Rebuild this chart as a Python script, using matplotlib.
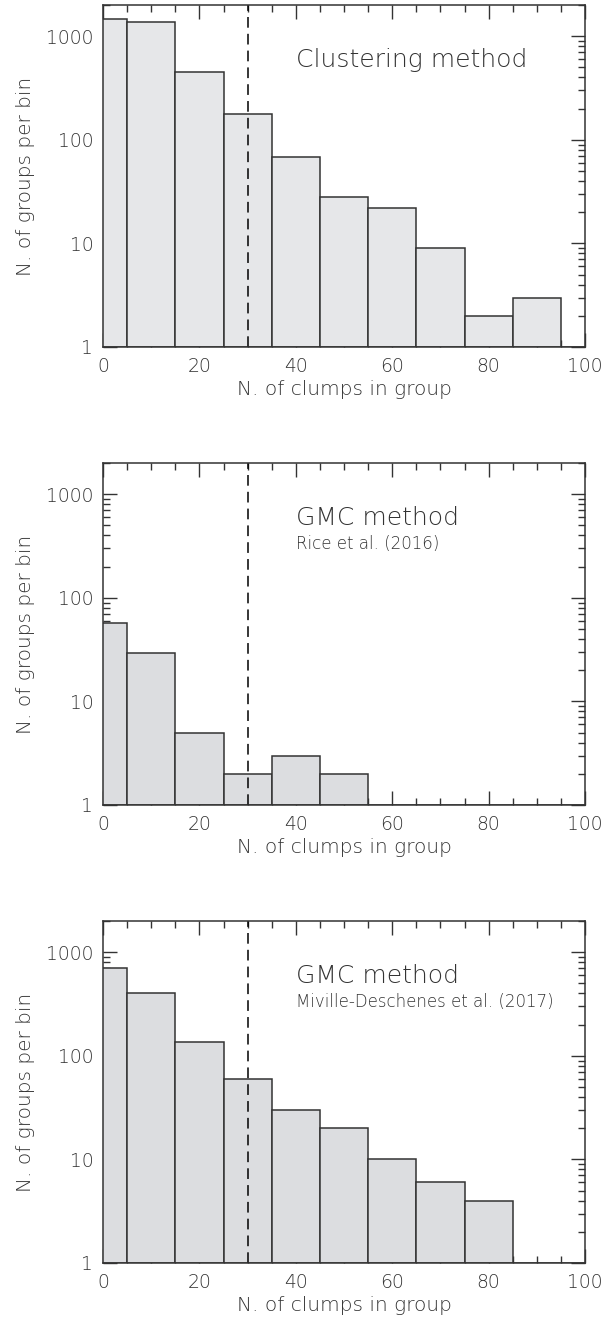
import numpy as np
import matplotlib
matplotlib.use("Agg")
import matplotlib.pyplot as plt
from matplotlib.ticker import LogLocator, MultipleLocator, FixedFormatter, NullFormatter

# bin centres (first and last bins are half-width, clipped at 0 and 100)
bin_centers = [0, 10, 20, 30, 40, 50, 60, 70, 80, 90, 100]

# groups per bin for each grouping method
clustering_counts = [1460, 1365, 452, 179, 68, 28, 22, 9, 2, 3, 1]
rice_counts = [57, 29, 5, 2, 3, 2, 1, 1, 1, 1, 1]
miville_counts = [711, 402, 136, 60, 30, 20, 10, 6, 4, 1, 1]

titles = ["Clustering method", "GMC method", "GMC method"]
subtitles = [None, "Rice et al. (2016)", "Miville-Deschenes et al. (2017)"]
fill_colors = ["#e6e7e9", "#dcdde0", "#dcdde0"]

threshold = 30
ytick_vals = [1, 10, 100, 1000]
ytick_labels = ["1", "10", "100", "1000"]

plt.rcParams['font.family'] = ['DejaVu Sans']
plt.rcParams['font.weight'] = 'light'
plt.rcParams['axes.labelweight'] = 'light'
text_color = "#333333"
edge_color = "#333333"

fig = plt.figure(figsize=(6.14, 13.21), dpi=100)

left, width, height = 103 / 614, 482 / 614, 342 / 1321
bottoms = [1 - 347 / 1321, 1 - 805 / 1321, 1 - 1263 / 1321]

for counts, title, sub, fc, b in zip([clustering_counts, rice_counts, miville_counts],
                                     titles, subtitles, fill_colors, bottoms):
    ax = fig.add_axes([left, b, width, height])
    heights = np.array(counts, dtype=float) - 1
    ax.bar(bin_centers, heights, width=10, bottom=1, color=fc,
           edgecolor=edge_color, linewidth=1.1, zorder=2)
    ax.axvline(threshold, color="black", linestyle=(0, (7, 4)), linewidth=1.1, zorder=3)

    ax.set_yscale("log")
    ax.set_xlim(0, 100)
    ax.set_ylim(1, 2000)

    ax.xaxis.set_major_locator(MultipleLocator(20))
    ax.xaxis.set_minor_locator(MultipleLocator(5))
    ax.set_yticks(ytick_vals)
    ax.yaxis.set_major_formatter(FixedFormatter(ytick_labels))
    ax.yaxis.set_minor_locator(LogLocator(base=10, subs=np.arange(2, 10)))
    ax.yaxis.set_minor_formatter(NullFormatter())

    ax.tick_params(which="both", direction="in", top=True, right=True,
                   color=edge_color, width=1.0)
    ax.tick_params(which="major", length=10, labelsize=13.5, labelcolor=text_color)
    ax.tick_params(which="minor", length=5)
    ax.tick_params(axis="x", which="major", pad=7)
    ax.tick_params(axis="y", which="major", pad=7)

    for sp in ax.spines.values():
        sp.set_color(edge_color)
        sp.set_linewidth(1.1)
        sp.set_zorder(4)

    ax.set_xlabel("N. of clumps in group", fontsize=14.5, color=text_color, labelpad=3)
    ax.set_ylabel("N. of groups per bin", fontsize=14.5, color=text_color, labelpad=8)

    ax.text(40, 0.838, title, transform=ax.get_xaxis_transform(),
            fontsize=18, color=text_color, va="center", ha="left")
    if sub:
        ax.text(40, 0.763, sub, transform=ax.get_xaxis_transform(),
                fontsize=12, color=text_color, va="center", ha="left")

fig.savefig("out.png", dpi=100)
